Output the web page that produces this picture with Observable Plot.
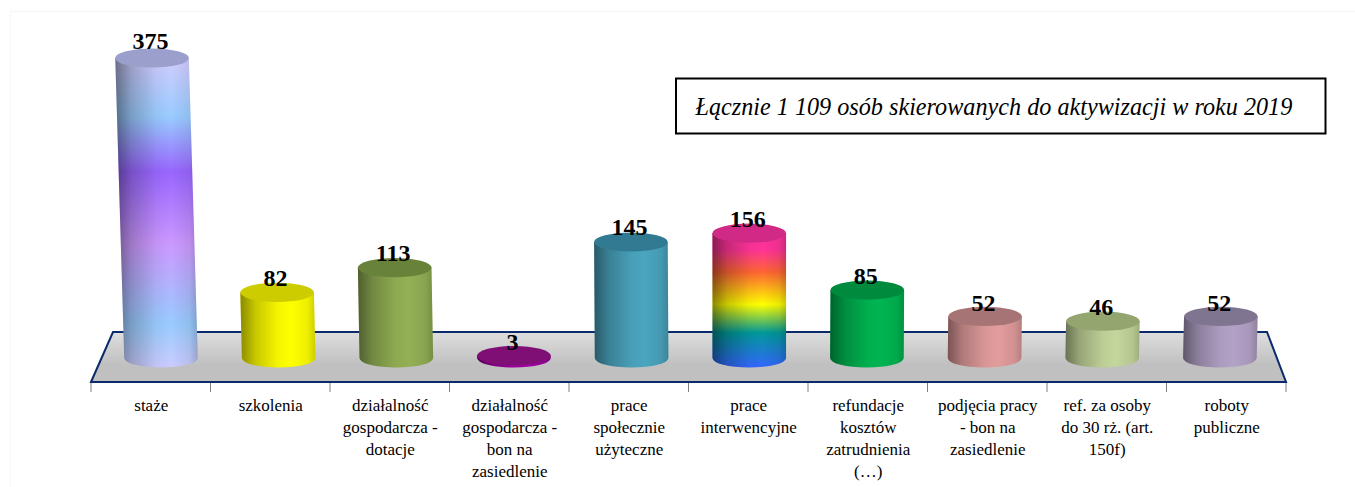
<!DOCTYPE html>
<html><head><meta charset="utf-8">
<style>html,body{margin:0;padding:0;background:#fff}svg{display:block}</style>
<script src="https://cdn.jsdelivr.net/npm/d3@7"></script>
<script src="https://cdn.jsdelivr.net/npm/@observablehq/plot@0.6"></script>
</head><body><div id="chart"></div>
<script>
const categories = ["staże","szkolenia","działalność\ngospodarcza -\ndotacje","działalność\ngospodarcza -\nbon na\nzasiedlenie","prace\nspołecznie\nużyteczne","prace\ninterwencyjne","refundacje\nkosztów\nzatrudnienia\n(…)","podjęcia pracy\n- bon na\nzasiedlenie","ref. za osoby\ndo 30 rż. (art.\n150f)","roboty\npubliczne"];
const values = [375,82,113,3,145,156,85,52,46,52];
const bodyColors = ["url(#daybreak)","#ffff00","#93b055","#a000a0","#4aa5bf","url(#rainbow)","#00b551","#e29c9c","#c3d69b","#b3a2c7"];
const topColors = ["#9a9fcc","#cccc00","#69823a","#7f0f75","#327a92","#d02a86","#008a3e","#a67474","#93a670","#807591"];
const note = "Łącznie 1 109 osób skierowanych do aktywizacji w roku 2019";
const table = categories.map((category,i)=>({category,value:values[i],body:bodyColors[i],top:topColors[i]}));
const FRONT=-30, BACK=32.5, VP=749, R=36.8, RY=9.6;
const NS="http://www.w3.org/2000/svg";
const el=(n,a,p)=>{const e=document.createElementNS(NS,n);for(const k in a)e.setAttribute(k,a[k]);if(p)p.appendChild(e);return e;};
const grad=(parent,id,stops,horizontal)=>{const g=el("linearGradient",{id,x1:0,y1:0,x2:horizontal?1:0,y2:horizontal?0:1},parent);
  stops.forEach(([o,c,a])=>el("stop",{offset:o,"stop-color":c,"stop-opacity":a==null?1:a},g));};
const persp=(c,h)=>VP+1+(c-VP)*(0.9845+0.00005*h);
const centre=(x,c)=>x(c)+x.bandwidth()/2;

function floorMark(index,{x,y}){
  const g=el("g",{});
  const defs=el("defs",{},g);
  grad(defs,"floor",[[0,"#dedede"],[0.65,"#c0c0c0"],[1,"#c0c0c0"]]);
  grad(defs,"daybreak",[[0.02,"#ccccff"],[0.19,"#99ccff"],[0.367,"#9966ff"],[0.6,"#cc99ff"],[0.86,"#99ccff"],[1,"#ccccff"]]);
  grad(defs,"rainbow",[[0.12,"#ff3399"],[0.29,"#ff6633"],[0.53,"#ffff00"],[0.74,"#009999"],[1,"#3366ff"]]);
  grad(defs,"shade",[[0,"#000",0.46],[0.2,"#000",0.22],[0.5,"#000",0.04],[0.68,"#000",0],[0.9,"#000",0.07],[1,"#000",0.2]],true);
  const [x0]=x.range(), x1=x.range()[1], yf=y(FRONT), yb=y(BACK);
  el("path",{d:`M${x0},${yf}L${x0+22},${yb}L${x1-19},${yb}L${x1},${yf}Z`,fill:"url(#floor)",stroke:"#0b2a6b","stroke-width":2,"stroke-linejoin":"miter"},g);
  const edges=[...categories.map(c=>x(c)),x1];
  edges.forEach(e=>el("line",{x1:e,x2:e,y1:yf+1,y2:yf+10,stroke:"#808080","stroke-width":1},g));
  return g;
}

function cylinder(index,{x,y}){
  const g=el("g",{});
  const y0=y(0);
  for(const i of index){
    const d=table[i], c=centre(x,d.category), yt=y(d.value), h=y0-yt;
    const xb=persp(c,0), xt=persp(c,h);
    const body=`M${xt-R},${yt}L${xb-R},${y0}A${R},${RY} 0 0 0 ${xb+R},${y0}L${xt+R},${yt}Z`;
    el("path",{d:body,fill:d.body},g);
    el("path",{d:body,fill:"url(#shade)"},g);
    el("ellipse",{cx:xt,cy:yt,rx:R,ry:RY,fill:d.top},g);
  }
  return g;
}

function shiftLabels(index,scales,values,dim,ctx,next){
  const {x,y}=scales, y0=y(0), nx=Float64Array.from(values.x), ny=Float64Array.from(values.y);
  for(const i of index){
    const c=centre(x,table[i].category), h=y0-y(table[i].value);
    nx[i]=persp(c,h)-2-x.bandwidth()/2;
    ny[i]=values.y[i]-h*0.011;
  }
  return next(index,scales,{...values,x:nx,y:ny},dim,ctx);
}

function noteBox(){
  const g=el("g",{});
  el("rect",{x:676,y:78.5,width:649.5,height:55,fill:"#fff",stroke:"#000","stroke-width":2},g);
  return g;
}
function pageFrame(){
  return el("path",{d:"M10.5,487V11.5H1355",fill:"none",stroke:"#f8f8f8","stroke-width":1.5});
}

const plot=Plot.plot({
  width:1355,height:487,marginLeft:91,marginRight:69,marginTop:58,marginBottom:105,
  style:{fontFamily:"'Liberation Serif',serif",background:"#fff",color:"#000",overflow:"visible"},
  x:{domain:categories,range:[91,1286],padding:0,round:false,axis:null,label:null},
  y:{domain:[0,375],range:[358,58],axis:null,label:null},
  marks:[
    pageFrame,
    floorMark,
    Plot.axisX(categories,{tickSize:0,tickPadding:13,fontSize:17,lineHeight:1.3,lineAnchor:"top",label:null,fill:"#000",textOverflow:null}),
    Plot.barY(table,{x:"category",y:"value",render:cylinder}),
    Plot.text(table,{x:"category",y:"value",text:d=>String(d.value),dy:-13.5,fontSize:24,fontWeight:"bold",fill:"#000",lineAnchor:"middle",render:shiftLabels}),
    noteBox,
    Plot.text([note],{frameAnchor:"top-left",dx:604,dy:49,fontSize:24.2,fontStyle:"italic",textAnchor:"start",lineAnchor:"middle",fill:"#000"})
  ]
});
document.getElementById("chart").appendChild(plot);
</script></body></html>
